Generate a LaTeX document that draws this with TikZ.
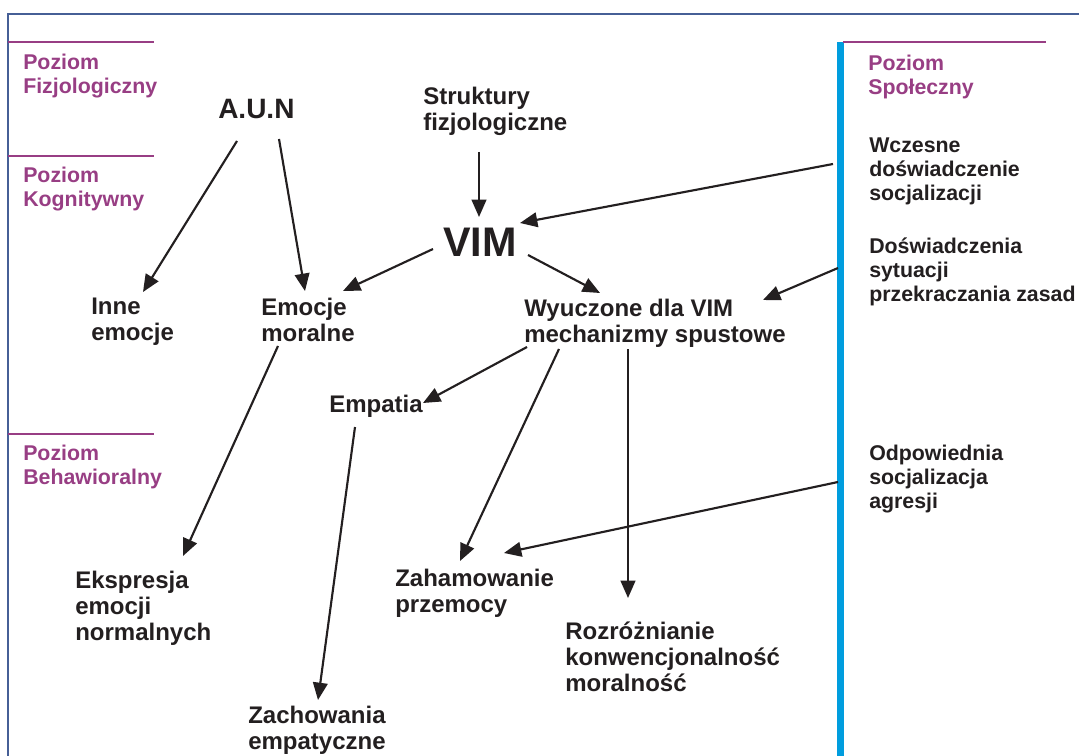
\documentclass[tikz,border=0pt]{standalone}
\usepackage{fontspec}
\setmainfont{Liberation Sans}
\usetikzlibrary{arrows.meta,calc}
\definecolor{frameblue}{RGB}{70,95,150}
\definecolor{barblue}{RGB}{0,157,222}
\definecolor{levelpurple}{RGB}{152,62,132}
\definecolor{inkgrey}{RGB}{35,31,32}
\tikzset{
  level rule/.style={draw=levelpurple,line width=1.5pt},
  level label/.style={anchor=north west,inner sep=0pt,align=left,text=levelpurple,
    font=\fontsize{16}{18}\selectfont\bfseries},
  item label/.style={anchor=north west,inner sep=0pt,align=left,text=inkgrey,
    font=\fontsize{18}{19.5}\selectfont\bfseries},
  side label/.style={item label,font=\fontsize{16}{18}\selectfont\bfseries},
  link arrow/.style={draw=inkgrey,line width=1.6pt,-{Triangle[length=13pt,width=11pt]}}
}

\begin{document}
\begin{tikzpicture}[x=0.75pt,y=-0.75pt]
  \useasboundingbox (0,0) rectangle (1079,756);
  \fill[white] (0,0) rectangle (1079,756);

  \begin{scope}
    \draw[draw=frameblue,line width=1.5pt] (1079,14) -- (8,14) -- (8,756);
    \draw[draw=barblue,line width=5.2pt] (840.5,42) -- (840.5,756);
    \draw[level rule] (8,42) -- (154,42);
    \draw[level rule] (8,156) -- (154,156);
    \draw[level rule] (8,434) -- (154,434);
    \draw[level rule] (843,42) -- (1046,42);
    \node[level label] (fizjo) at (23,54) {Poziom\\Fizjologiczny};
    \node[level label] (kogni) at (23,167) {Poziom\\Kognitywny};
    \node[level label] (behaw) at (23,445) {Poziom\\Behawioralny};
    \node[level label] (spol) at (868,55) {Poziom\\Społeczny};
  \end{scope}

  \node[item label,font=\fontsize{21}{24}\selectfont\bfseries] (aun) at (218,99) {A.U.N};
  \node[item label] (strukt) at (423,87) {Struktury\\fizjologiczne};
  \node[item label,font=\fontsize{31}{34}\selectfont\bfseries] (vim) at (443,228) {VIM};
  \node[item label] (inne) at (91,298) {Inne\\emocje};
  \node[item label] (emocje) at (261,298) {Emocje\\moralne};
  \node[item label] (wyucz) at (524,299) {Wyuczone dla VIM\\mechanizmy spustowe};
  \node[side label] (wczesne) at (869,138) {Wczesne\\doświadczenie\\socjalizacji};
  \node[side label] (dosw) at (869,238) {Doświadczenia\\sytuacji\\przekraczania zasad};
  \node[item label] (empatia) at (329,395) {Empatia};
  \node[side label] (odpow) at (869,445) {Odpowiednia\\socjalizacja\\agresji};
  \node[item label] (ekspr) at (75,571) {Ekspresja\\emocji\\normalnych};
  \node[item label] (zaham) at (395,569) {Zahamowanie\\przemocy};
  \node[item label] (rozr) at (565,622) {Rozróżnianie\\konwencjonalność\\moralność};
  \node[item label] (zach) at (248,706) {Zachowania\\empatyczne};

  \draw[link arrow] ($(aun.north west)+(19,42)$) -- ($(inne.north west)+(52,-6)$);
  \draw[link arrow] ($(aun.north west)+(61,40)$) -- ($(emocje.north west)+(44,-7)$);
  \draw[link arrow] ($(strukt.north west)+(56,65)$) -- ($(vim.north west)+(36,-11)$);
  \draw[link arrow] ($(wczesne.north west)+(-36,26)$) -- ($(vim.north west)+(77,-5)$);
  \draw[link arrow] ($(vim.north west)+(-10,21)$) -- ($(emocje.north west)+(82,-7)$);
  \draw[link arrow] ($(vim.north west)+(85,27)$) -- ($(wyucz.north west)+(76,-6)$);
  \draw[link arrow] ($(dosw.north west)+(-31,30)$) -- ($(wyucz.north west)+(239,1)$);
  \draw[link arrow] ($(emocje.north west)+(17,48)$) -- ($(ekspr.north west)+(108,-15)$);
  \draw[link arrow] ($(wyucz.north west)+(3,48)$) -- ($(empatia.north west)+(94,8)$);
  \draw[link arrow] ($(wyucz.north west)+(35,50)$) -- ($(zaham.north west)+(65,-8)$);
  \draw[link arrow] ($(wyucz.north west)+(104,50)$) -- ($(rozr.north west)+(63,-24)$);
  \draw[link arrow] ($(empatia.north west)+(26,32)$) -- ($(zach.north west)+(70,-6)$);
  \draw[link arrow] ($(odpow.north west)+(-31,37)$) -- ($(zaham.north west)+(109,-16)$);
\end{tikzpicture}
\end{document}
